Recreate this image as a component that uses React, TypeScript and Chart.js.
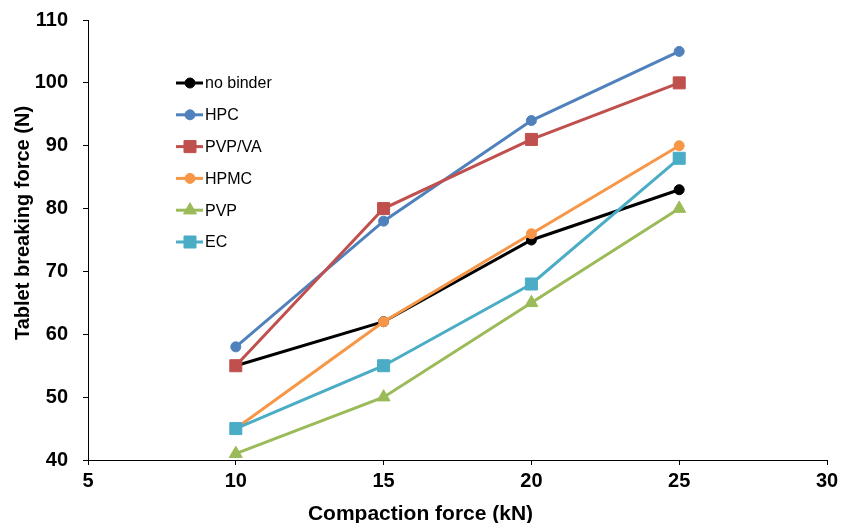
import React, { useEffect, useRef } from 'react';
import { Chart, registerables } from 'chart.js';
import { drawPoint } from 'chart.js/helpers';

Chart.register(...registerables);

// ---- Data ----
const compactionForce = [10, 15, 20, 25];
const noBinder = [55, 62, 75, 83];
const hpc = [58, 78, 94, 105];
const pvpVa = [55, 80, 91, 100];
const hpmc = [45, 62, 76, 90];
const pvp = [41, 50, 65, 80];
const ec = [45, 55, 68, 88];
const seriesNames = ['no binder', 'HPC', 'PVP/VA', 'HPMC', 'PVP', 'EC'];
const seriesValues = [noBinder, hpc, pvpVa, hpmc, pvp, ec];
const seriesColors = ['#000000', '#4F81BD', '#C0504D', '#F79646', '#9BBB59', '#4BACC6'];
const seriesMarkers = ['circle', 'circle', 'rect', 'circle', 'triangle', 'rect'];
const markerRadius: Record<string, number> = { circle: 5, rect: 8.5, triangle: 7.5 };
const xTitle = 'Compaction force (kN)';
const yTitle = 'Tablet breaking force (N)';
const xMin = 5, xMax = 30, xStep = 5;
const yMin = 40, yMax = 110, yStep = 10;

const FONT = '"Liberation Sans", Arial, sans-serif';

const customLegend = {
  id: 'customLegend',
  afterDatasetsDraw(chart: any) {
    const { ctx, chartArea: ca } = chart;
    const x0 = ca.left + 88;
    const y0 = ca.top + 63;
    const gap = 31.8;
    ctx.save();
    chart.data.datasets.forEach((ds: any, i: number) => {
      const y = y0 + i * gap;
      ctx.strokeStyle = ds.borderColor;
      ctx.lineWidth = 3;
      ctx.beginPath();
      ctx.moveTo(x0, y);
      ctx.lineTo(x0 + 27, y);
      ctx.stroke();
      ctx.fillStyle = ds.pointBackgroundColor;
      ctx.strokeStyle = ds.pointBorderColor;
      ctx.lineWidth = 1;
      drawPoint(ctx, { pointStyle: ds.pointStyle, radius: ds.pointRadius, rotation: 0, borderWidth: 1 }, x0 + 14, y);
      ctx.fillStyle = '#000';
      ctx.font = `16px ${FONT}`;
      ctx.textBaseline = 'middle';
      ctx.textAlign = 'left';
      ctx.fillText(ds.label, x0 + 29, y + 1);
    });
    ctx.restore();
  },
};

const axisTitles = {
  id: 'axisTitles',
  afterDraw(chart: any) {
    const { ctx, chartArea: ca } = chart;
    ctx.save();
    ctx.fillStyle = '#000';
    ctx.textAlign = 'center';
    ctx.textBaseline = 'middle';
    ctx.font = `bold 21px ${FONT}`;
    ctx.fillText(xTitle, chart.width / 2 - 1, ca.bottom + 54);
    ctx.translate(23, ca.top + 203);
    ctx.rotate(-Math.PI / 2);
    ctx.font = `bold 20px ${FONT}`;
    ctx.fillText(yTitle, 0, 0);
    ctx.restore();
  },
};

export default function App() {
  const ref = useRef<HTMLCanvasElement>(null);
  useEffect(() => {
    if (!ref.current) return;
    const datasets = seriesNames.map((name, i) => ({
      label: name,
      data: compactionForce.map((x, j) => ({ x, y: seriesValues[i][j] })),
      borderColor: seriesColors[i],
      backgroundColor: seriesColors[i],
      pointBackgroundColor: seriesColors[i],
      pointBorderColor: seriesColors[i],
      pointStyle: seriesMarkers[i],
      pointRadius: markerRadius[seriesMarkers[i]],
      pointBorderWidth: 1,
      borderWidth: 3,
      tension: 0,
      order: seriesNames.length - i,
    }));
    const chart = new Chart(ref.current, {
      type: 'line',
      data: { datasets },
      options: {
        responsive: false,
        animation: false,
        layout: { padding: { top: 20, right: 16, left: 0, bottom: 0 } },
        plugins: { legend: { display: false }, tooltip: { enabled: false }, title: { display: false } },
        scales: {
          x: {
            type: 'linear',
            min: xMin,
            max: xMax,
            ticks: { stepSize: xStep, color: '#000', font: { family: FONT, size: 20, weight: 'bold' }, padding: 4, maxRotation: 0 },
            grid: { display: true, drawOnChartArea: false, drawTicks: true, tickLength: 5, color: '#000', lineWidth: 1 },
            border: { display: true, color: '#000', width: 1 },
            afterFit(s: any) { s.height = 63; s.paddingLeft = 0; s.paddingRight = 0; },
          },
          y: {
            type: 'linear',
            min: yMin,
            max: yMax,
            ticks: { stepSize: yStep, color: '#000', font: { family: FONT, size: 20, weight: 'bold' }, padding: 15 },
            grid: { display: true, drawOnChartArea: false, drawTicks: true, tickLength: 5, color: '#000', lineWidth: 1 },
            border: { display: true, color: '#000', width: 1 },
            afterFit(s: any) { s.width = 88; s.paddingTop = 0; s.paddingBottom = 0; },
          },
        },
      } as any,
      plugins: [customLegend, axisTitles],
    });
    return () => chart.destroy();
  }, []);
  return (
    <div style={{ position: 'absolute', left: 0, top: 0, width: 843, height: 523, background: '#fff' }}>
      <canvas ref={ref} width={843} height={523} style={{ display: 'block' }} />
    </div>
  );
}
